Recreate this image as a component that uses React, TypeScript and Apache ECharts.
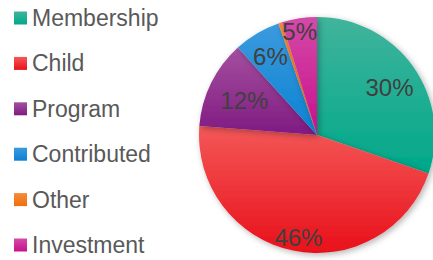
import React, { useEffect, useRef } from "react";
import * as echarts from "echarts";

const categories = ["Membership", "Child", "Program", "Contributed", "Other", "Investment"];
const values = [30.3, 45.9, 12.1, 6.4, 0.5, 4.8];
const topColors = ["#40b49c", "#f45858", "#a4509f", "#3c9ade", "#f58a3a", "#d44aa8"];
const bottomColors = ["#00a88a", "#e8101a", "#801a82", "#0a82d2", "#f07010", "#c8108c"];
const labelOffsets: [number, number][] = [[22, -12], [-6, 42], [-17, -7], [-15, -25], [0, 0], [-8, -42]];
const showLabel = [true, true, true, true, false, true];

const FONT = "'Liberation Sans', Arial, sans-serif";

export default function App() {
  const ref = useRef<HTMLDivElement>(null);
  useEffect(() => {
    if (!ref.current) return;
    const chart = echarts.init(ref.current, null, { renderer: "svg" });
    const data = categories.map((name, i) => ({
      name,
      value: values[i],
      itemStyle: {
        color: new echarts.graphic.LinearGradient(0, 0, 0, 1, [
          { offset: 0, color: topColors[i] },
          { offset: 1, color: bottomColors[i] },
        ]),
      },
      label: { show: showLabel[i], offset: labelOffsets[i] },
    }));
    chart.setOption({
      animation: false,
      legend: {
        orient: "vertical",
        left: 14,
        top: 6,
        padding: 0,
        height: 254,
        itemWidth: 13,
        itemHeight: 13,
        itemGap: 21.4,
        icon: "rect",
        textStyle: { fontSize: 23, color: "#595959", fontFamily: FONT, lineHeight: 24 },
        data: categories,
      },
      series: [
        {
          type: "pie",
          center: [317, 135],
          radius: 118,
          startAngle: 90,
          clockwise: true,
          avoidLabelOverlap: false,
          labelLayout: { hideOverlap: false },
          itemStyle: {
            shadowBlur: 6,
            shadowColor: "rgba(0,0,0,0.3)",
            shadowOffsetX: 2,
            shadowOffsetY: 2,
          },
          label: {
            position: "inside",
            fontSize: 24,
            color: "#404040",
            fontFamily: FONT,
            formatter: (p: any) => Math.round(p.percent) + "%",
          },
          labelLine: { show: false },
          emphasis: { disabled: true },
          data,
        },
      ],
    });
    return () => chart.dispose();
  }, []);
  return (
    <div
      ref={ref}
      style={{ position: "fixed", left: 0, top: 0, width: 433, height: 260, background: "#fff" }}
    />
  );
}
